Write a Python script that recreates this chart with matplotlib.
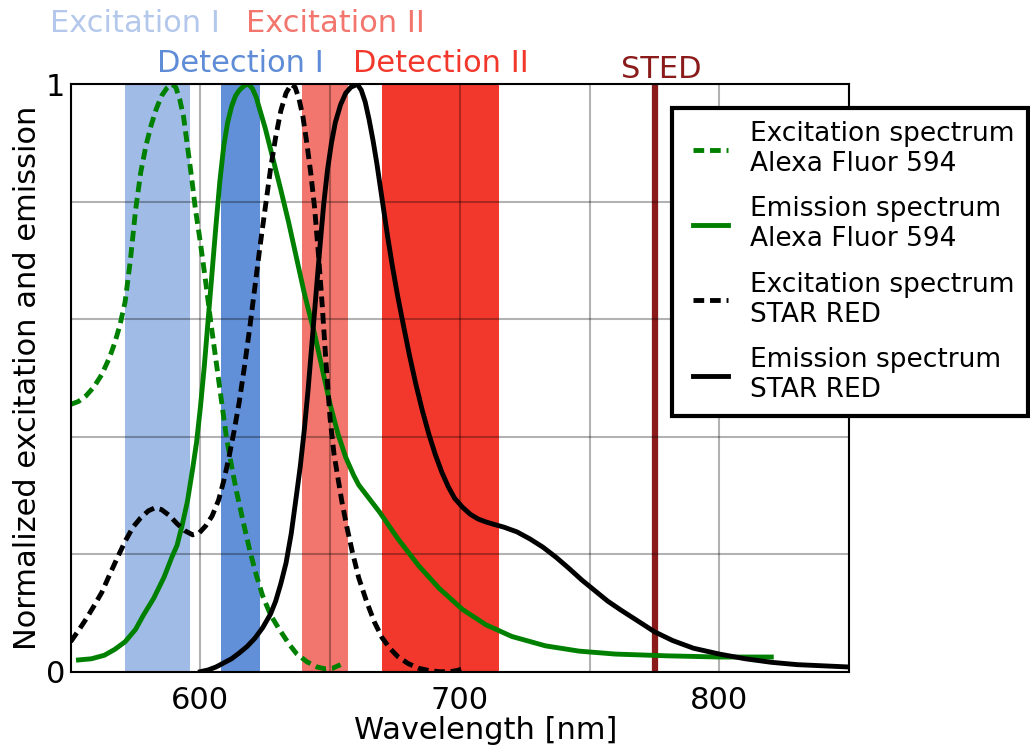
import matplotlib
matplotlib.use("Agg")
import matplotlib.pyplot as plt

# band edges in nm
exc1_band = [571, 596]
det1_band = [608, 623]
exc2_band = [639, 657]
det2_band = [670, 715]
sted_nm = 775

# Alexa Fluor 594 excitation
alexa_exc_nm = [550, 553, 556, 559, 562, 565, 567, 569, 571, 573, 575, 577, 579, 581, 583, 585,
                587, 589, 590.5, 592, 593.5, 595, 596.5, 598, 600, 602, 604, 606, 608, 610, 612,
                614, 616.5, 619, 621.5, 624, 627, 630, 634, 637, 641, 645, 648, 651, 654]
alexa_exc = [0.455, 0.46, 0.47, 0.485, 0.506, 0.535, 0.56, 0.59, 0.63, 0.70, 0.785, 0.85,
             0.895, 0.93, 0.958, 0.98, 0.993, 1.0, 0.995, 0.975, 0.945, 0.895, 0.845, 0.79,
             0.73, 0.665, 0.595, 0.53, 0.465, 0.40, 0.35, 0.305, 0.255, 0.207, 0.165, 0.129,
             0.097, 0.075, 0.048, 0.031, 0.017, 0.008, 0.005, 0.006, 0.012]

# Alexa Fluor 594 emission
alexa_em_nm = [553, 558, 563, 567, 571, 575, 578, 582, 586, 589, 591, 593, 595, 597, 598.5, 600,
               601.5, 603, 604.5, 606, 607.5, 609, 610.5, 612, 613.5, 615, 617, 618.5, 620,
               621.5, 623, 625, 627, 629, 631, 634, 637, 640, 644, 647, 650, 653, 656, 659, 661,
               665, 669, 676, 684, 692, 701, 710, 720, 733, 746, 760, 780, 800, 820]
alexa_em = [0.02, 0.022, 0.028, 0.038, 0.051, 0.072, 0.096, 0.125, 0.161, 0.195, 0.215, 0.25,
            0.29, 0.345, 0.39, 0.45, 0.52, 0.60, 0.68, 0.76, 0.835, 0.895, 0.935, 0.962, 0.98,
            0.99, 0.998, 1.0, 0.993, 0.978, 0.955, 0.925, 0.89, 0.855, 0.82, 0.765, 0.705,
            0.645, 0.575, 0.515, 0.455, 0.405, 0.365, 0.335, 0.318, 0.295, 0.272, 0.227, 0.181,
            0.142, 0.106, 0.08, 0.06, 0.044, 0.035, 0.03, 0.027, 0.025, 0.025]

# STAR RED excitation
star_exc_nm = [550, 553, 556, 559, 562, 565, 568, 571, 574, 577, 580, 582.5, 585, 588, 591, 594,
               597, 599.5, 602, 604.5, 607, 609, 611, 613, 615, 617, 619, 621, 623, 625, 627,
               629, 631, 633, 635, 636.5, 638, 639.5, 641, 642.5, 644, 645.5, 647, 648.5, 650,
               651.5, 653, 654.5, 656.5, 658.5, 661, 664, 667, 670, 673, 676, 680, 684, 688,
               692, 696, 699, 701]
star_exc = [0.051, 0.07, 0.09, 0.112, 0.135, 0.165, 0.194, 0.222, 0.246, 0.262, 0.274, 0.279,
            0.276, 0.266, 0.252, 0.24, 0.233, 0.236, 0.248, 0.265, 0.292, 0.325, 0.365, 0.41,
            0.46, 0.52, 0.585, 0.655, 0.725, 0.79, 0.855, 0.91, 0.955, 0.985, 1.0, 0.995, 0.975,
            0.945, 0.90, 0.85, 0.79, 0.71, 0.62, 0.52, 0.43, 0.37, 0.33, 0.29, 0.245, 0.205,
            0.16, 0.12, 0.085, 0.058, 0.04, 0.026, 0.014, 0.006, 0.002, 0.0, 0.0, 0.002, 0.005]

# STAR RED emission
star_em_nm = [600, 603, 606, 609, 612, 615, 618, 621, 624, 627, 629, 631, 633, 635, 637, 638.5,
              640, 641.5, 643, 644.5, 646, 647.5, 649, 650.5, 652, 654, 656, 658, 660.5, 662,
              663.5, 665, 666.5, 668, 670, 672, 674, 676, 678, 680.5, 683, 685.5, 688, 690.5,
              693, 695.5, 698, 701, 704, 707, 710, 713, 717, 722, 727, 732, 737, 742, 747, 752,
              757, 762, 768, 775, 782, 790, 800, 810, 820, 830, 840, 850]
star_em = [0.0, 0.003, 0.008, 0.015, 0.022, 0.032, 0.043, 0.057, 0.075, 0.098, 0.12, 0.15,
           0.185, 0.235, 0.3, 0.35, 0.41, 0.48, 0.56, 0.64, 0.72, 0.795, 0.855, 0.9, 0.935,
           0.965, 0.985, 0.995, 1.0, 0.99, 0.97, 0.94, 0.905, 0.865, 0.805, 0.745, 0.69, 0.64,
           0.595, 0.54, 0.49, 0.445, 0.405, 0.37, 0.34, 0.315, 0.295, 0.28, 0.268, 0.26, 0.255,
           0.251, 0.246, 0.238, 0.226, 0.212, 0.195, 0.176, 0.156, 0.138, 0.12, 0.105, 0.088,
           0.068, 0.053, 0.04, 0.03, 0.022, 0.016, 0.012, 0.01, 0.008]

x_ticks = [550, 600, 650, 700, 750, 800, 850]
x_labels = ['', '600', '', '700', '', '800', '']
y_ticks = [0, 0.2, 0.4, 0.6, 0.8, 1.0]
y_labels = ['0', '', '', '', '', '1']

fig = plt.figure(figsize=(10.3, 7.49), dpi=100)
ax = fig.add_axes([0.0686, 0.1032, 0.7558, 0.7843])

ax.axvspan(*exc1_band, color='#a0bce6', lw=0, zorder=0)
ax.axvspan(*det1_band, color='#6290d8', lw=0, zorder=0)
ax.axvspan(*exc2_band, color='#f2766e', lw=0, zorder=0)
ax.axvspan(*det2_band, color='#f2382c', lw=0, zorder=0)

ax.grid(True, color='k', alpha=0.3, lw=1.5, zorder=1)
ax.set_axisbelow(False)

lw = 3.5
dash = (2.2, 1.2)
ax.plot(alexa_exc_nm, alexa_exc, '--', dashes=dash, color='green', lw=lw, zorder=3,
        label='Excitation spectrum\nAlexa Fluor 594')
ax.plot(alexa_em_nm, alexa_em, '-', color='green', lw=lw, zorder=3,
        label='Emission spectrum\nAlexa Fluor 594')
ax.plot(star_exc_nm, star_exc, '--', dashes=dash, color='black', lw=lw, zorder=3,
        label='Excitation spectrum\nSTAR RED')
ax.plot(star_em_nm, star_em, '-', color='black', lw=lw, zorder=3,
        label='Emission spectrum\nSTAR RED')
ax.axvline(sted_nm, color='#8b1a1a', lw=4.5, zorder=2)

ax.set_xlim(550, 850)
ax.set_ylim(0, 1)
ax.set_xticks(x_ticks)
ax.set_xticklabels(x_labels)
ax.set_yticks(y_ticks)
ax.set_yticklabels(y_labels)
ax.tick_params(length=0, labelsize=22)
ax.tick_params(axis='x', pad=10)
ax.tick_params(axis='y', pad=4)
for s in ax.spines.values():
    s.set_linewidth(1.5)
    s.set_zorder(4)

ax.set_xlabel('Wavelength [nm]', fontsize=22)
ax.xaxis.set_label_coords(0.533, -0.075)
ax.set_ylabel('Normalized excitation and emission', fontsize=22)
ax.yaxis.set_label_coords(-0.037, 0.5)

fig.text(135 / 1030, 1 - 32 / 749, 'Excitation I', color='#b4c8ec', fontsize=22, ha='center', va='baseline')
fig.text(335 / 1030, 1 - 32 / 749, 'Excitation II', color='#f2766e', fontsize=22, ha='center', va='baseline')
fig.text(240 / 1030, 1 - 72 / 749, 'Detection I', color='#5f8cd6', fontsize=22, ha='center', va='baseline')
fig.text(441 / 1030, 1 - 72 / 749, 'Detection II', color='#f2382c', fontsize=22, ha='center', va='baseline')
fig.text(661 / 1030, 1 - 78 / 749, 'STED', color='#8b1a1a', fontsize=22, ha='center', va='baseline')

leg = ax.legend(loc='upper left', bbox_to_anchor=(672 / 1030, 1 - 108 / 749),
                bbox_transform=fig.transFigure, borderaxespad=0, fontsize=19,
                numpoints=2, handlelength=1.92, handletextpad=0.54, borderpad=0.5,
                labelspacing=0.73, fancybox=False, framealpha=1)
leg.get_frame().set_edgecolor('black')
leg.get_frame().set_linewidth(3)

fig.savefig('out.png', dpi=100)
